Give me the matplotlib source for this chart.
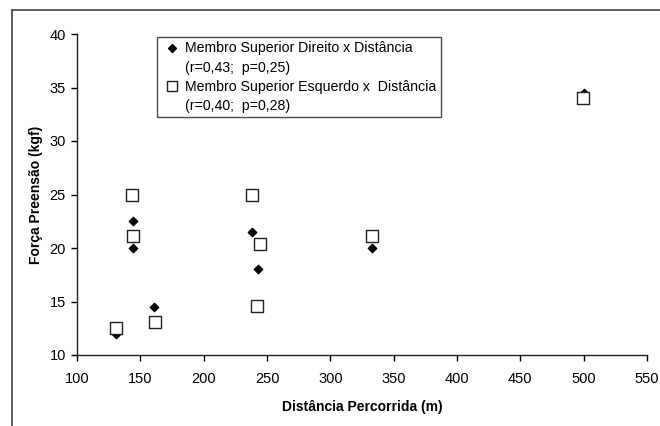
import matplotlib.pyplot as plt
from matplotlib.lines import Line2D

plt.rcParams['font.family'] = ['Liberation Sans', 'DejaVu Sans']

# Membro superior direito (diamonds)
dir_dist = [131, 144, 144.5, 161, 238, 242.5, 333, 500]
dir_forca = [12.0, 22.5, 20.0, 14.5, 21.5, 18.0, 20.0, 34.5]

# Membro superior esquerdo (squares)
esq_dist = [131, 143.7, 144.5, 161.5, 238, 244.5, 242.3, 333, 499.5]
esq_forca = [12.5, 25.0, 21.1, 13.1, 25.0, 20.4, 14.6, 21.1, 34.0]

x_ticks = [100, 150, 200, 250, 300, 350, 400, 450, 500, 550]
y_ticks = [10, 15, 20, 25, 30, 35, 40]

fig = plt.figure(figsize=(6.6, 4.26), dpi=100)
ax = fig.add_axes([77 / 660, 1 - 355 / 426, 570 / 660, 321 / 426])

ax.scatter(dir_dist, dir_forca, marker='D', s=18, color='black', zorder=2)
ax.scatter(esq_dist, esq_forca, marker='s', s=75, facecolor='white',
           edgecolor='#222222', linewidths=1.0, zorder=3)

ax.set_xlim(100, 550)
ax.set_ylim(10, 40)
ax.set_xticks(x_ticks)
ax.set_yticks(y_ticks)
ax.tick_params(labelsize=10.5, length=4, width=1, direction='out')
ax.tick_params(axis='x', pad=8)
ax.tick_params(axis='y', pad=4)
for s in ['top', 'right']:
    ax.spines[s].set_visible(False)
for s in ['left', 'bottom']:
    ax.spines[s].set_linewidth(1)
    ax.spines[s].set_color('#222222')

ax.set_xlabel('Distância Percorrida (m)', fontsize=10, fontweight='bold', labelpad=10)
ax.set_ylabel('Força Preensão (kgf)', fontsize=10, fontweight='bold', labelpad=5)

# legend with indented second lines
blank = Line2D([], [], linestyle='none', marker=None)
handles = [
    Line2D([], [], linestyle='none', marker='D', markersize=4, color='black'),
    blank,
    Line2D([], [], linestyle='none', marker='s', markersize=7,
           markerfacecolor='white', markeredgecolor='#222222'),
    blank,
]
labels = [
    'Membro Superior Direito x Distância',
    '(r=0,43;  p=0,25)',
    'Membro Superior Esquerdo x  Distância',
    '(r=0,40;  p=0,28)',
]
leg = ax.legend(handles, labels, loc='upper left', bbox_to_anchor=(0.14, 0.99),
                fontsize=10.2, frameon=True, fancybox=False, edgecolor='#222222',
                handlelength=1.6, handletextpad=0.1, labelspacing=0.36,
                borderpad=0.3, borderaxespad=0)
leg.get_frame().set_linewidth(1)

# outer frame (top and left only)
fig.add_artist(Line2D([12 / 660, 1], [1 - 10 / 426, 1 - 10 / 426],
                      transform=fig.transFigure, color='#444444', lw=1.2))
fig.add_artist(Line2D([12 / 660, 12 / 660], [0, 1 - 10 / 426],
                      transform=fig.transFigure, color='#444444', lw=1.2))

fig.savefig('out.png', dpi=100)
